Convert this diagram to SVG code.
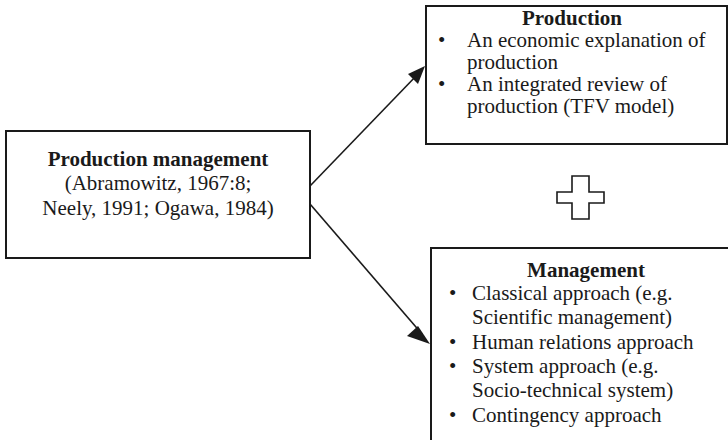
<svg xmlns="http://www.w3.org/2000/svg" width="728" height="440" viewBox="0 0 728 440">
  <style>
    .box { fill: #ffffff; stroke: #1a1a1a; stroke-width: 2; }
    .txt { font-family: "Liberation Serif", "Times New Roman", serif; font-size: 21px; fill: #1a1a1a; }
    .hd { font-weight: bold; text-anchor: middle; }
    .ctr { text-anchor: middle; }
    .link { stroke: #1a1a1a; stroke-width: 1.6; fill: none; }
    .head { fill: #1a1a1a; }
    .plus { fill: #ffffff; stroke: #1a1a1a; stroke-width: 1.6; }
  </style>
  <rect width="728" height="440" fill="#ffffff"/>

  <!-- connectors: straight lines with filled triangular heads -->
  <g id="connectors">
    <line class="link" x1="310" y1="186" x2="418" y2="74"/>
    <path class="head" d="M425,66 L408,74 L418,84 Z"/>
    <line class="link" x1="310" y1="204" x2="422" y2="334"/>
    <path class="head" d="M430,344 L418,326 L407,336 Z"/>
  </g>

  <!-- source node -->
  <g id="production-management">
    <rect class="box" x="6" y="131" width="304" height="127"/>
    <text class="txt hd" x="158" y="166">Production management</text>
    <text class="txt ctr" x="158" y="190">(Abramowitz, 1967:8;</text>
    <text class="txt ctr" x="158" y="215">Neely, 1991; Ogawa, 1984)</text>
  </g>

  <!-- production node -->
  <g id="production">
    <rect class="box" x="426" y="6" width="301" height="138"/>
    <text class="txt hd" x="572" y="25">Production</text>
    <text class="txt" x="438" y="47">•</text>
    <text class="txt" x="467" y="47">An economic explanation of</text>
    <text class="txt" x="467" y="69">production</text>
    <text class="txt" x="438" y="91">•</text>
    <text class="txt" x="467" y="91">An integrated review of</text>
    <text class="txt" x="467" y="113">production (TFV model)</text>
  </g>

  <!-- plus sign -->
  <g id="plus">
    <path class="plus" d="M572,176 H589 V192 H604 V203 H589 V219 H572 V203 H557 V192 H572 Z"/>
  </g>

  <!-- management node -->
  <g id="management">
    <rect class="box" x="431" y="248" width="320" height="210"/>
    <text class="txt hd" x="586" y="277">Management</text>
    <text class="txt" x="449" y="300">•</text>
    <text class="txt" x="472" y="300">Classical approach (e.g.</text>
    <text class="txt" x="472" y="324">Scientific management)</text>
    <text class="txt" x="449" y="349">•</text>
    <text class="txt" x="472" y="349">Human relations approach</text>
    <text class="txt" x="449" y="373">•</text>
    <text class="txt" x="472" y="373">System approach (e.g.</text>
    <text class="txt" x="472" y="397">Socio-technical system)</text>
    <text class="txt" x="449" y="422">•</text>
    <text class="txt" x="472" y="422">Contingency approach</text>
  </g>
</svg>
